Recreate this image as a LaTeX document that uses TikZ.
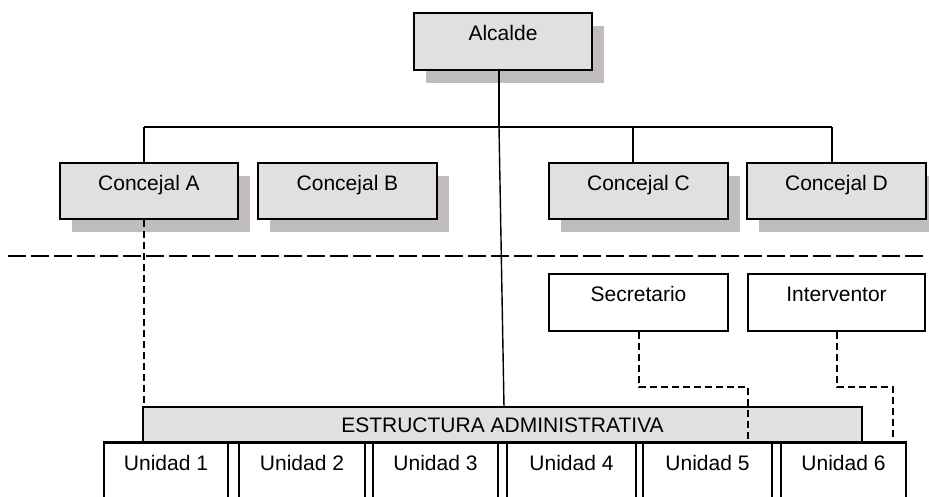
\documentclass[tikz,border=0pt]{standalone}
\usepackage{fontspec}
\setmainfont{Liberation Sans}
\usetikzlibrary{shadows}
\definecolor{boxgray}{RGB}{224,224,224}
\definecolor{shadegray}{RGB}{192,188,188}
\tikzset{
  lbl/.style={label={[anchor=base,yshift=-28pt,inner sep=0pt,font=\fontsize{21}{25}\selectfont]north:#1}},
  orgbox/.style={draw=black, line width=1.8pt, fill=boxgray, inner sep=0pt,
    drop shadow={shadow xshift=11.5pt, shadow yshift=-12.5pt, fill=shadegray, opacity=1}},
  plainbox/.style={draw=black, line width=1.6pt, fill=white, inner sep=0pt},
  barbox/.style={draw=black, line width=1.5pt, fill=boxgray, inner sep=0pt},
  link/.style={line width=1.6pt},
  dotlink/.style={line width=1.5pt, dash pattern=on 7pt off 4pt},
  divider/.style={line width=2pt, dash pattern=on 18pt off 5pt}
}
\begin{document}
\begin{tikzpicture}[x=1pt,y=-1pt]
\useasboundingbox (0,0) rectangle (929,496);

% political level
\node[orgbox, minimum width=178pt, minimum height=57pt, lbl=Alcalde] (alc) at (503,41.5) {};
\node[orgbox, minimum width=178pt, minimum height=56pt, lbl=Concejal A] (cA) at (149,191) {};
\node[orgbox, minimum width=179pt, minimum height=56pt, lbl=Concejal B] (cB) at (347.5,191) {};
\node[orgbox, minimum width=179pt, minimum height=56pt, lbl=Concejal C] (cC) at (638.5,191) {};
\node[orgbox, minimum width=179pt, minimum height=56pt, lbl=Concejal D] (cD) at (836.5,191) {};

% boundary between political and administrative level
\coordinate (divL) at (8,256);
\coordinate (divR) at (926,256);
\draw[divider] (divL) -- (divR);

% officials with national mandate
\node[plainbox, minimum width=179pt, minimum height=57pt, lbl=Secretario] (sec) at (638.5,302.5) {};
\node[plainbox, minimum width=177pt, minimum height=57pt, lbl=Interventor] (int) at (836.5,302.5) {};

% administrative structure
\node[barbox, minimum width=719pt, minimum height=36pt,
  label={[anchor=base,yshift=-26pt,inner sep=0pt,font=\fontsize{21}{25}\selectfont]north:ESTRUCTURA ADMINISTRATIVA}] (est) at (502.5,425) {};

\node[plainbox, minimum width=124pt, minimum height=62pt, lbl=Unidad 1] (u1) at (166,474) {};
\node[plainbox, minimum width=126pt, minimum height=62pt, lbl=Unidad 2] (u2) at (302,474) {};
\node[plainbox, minimum width=125pt, minimum height=62pt, lbl=Unidad 3] (u3) at (435.5,474) {};
\node[plainbox, minimum width=129pt, minimum height=62pt, lbl=Unidad 4] (u4) at (571.5,474) {};
\node[plainbox, minimum width=129pt, minimum height=62pt, lbl=Unidad 5] (u5) at (707.5,474) {};
\node[plainbox, minimum width=125pt, minimum height=62pt, lbl=Unidad 6] (u6) at (843.5,474) {};
\draw[line width=1.6pt] (u1.north west) -- (u6.north east);

% hierarchy connectors
\coordinate (busM) at (499,127);
\coordinate (busL) at (144,127);
\coordinate (busR) at (832,127);
\coordinate (dropC) at (633,127);
\coordinate (mainEnd) at (504,407);
\draw[link] (alc.south -| busM) -- (busM);
\draw[link] (busL) -- (busR);
\draw[link] (busL) -- (busL |- cA.north);
\draw[link] (dropC) -- (dropC |- cC.north);
\draw[link] (busR) -- (busR |- cD.north);
\draw[line width=1.4pt] (busM) -- (mainEnd);

% functional (dashed) connectors
\coordinate (aX) at (144,0);
\draw[dotlink] (cA.south -| aX) -- (est.north -| aX);
\coordinate (secTurn) at (639,387);
\coordinate (secDrop) at (748,387);
\draw[dotlink] (sec.south -| secTurn) -- (secTurn) -- (secDrop) -- (secDrop |- u5.north);
\coordinate (intTurn) at (837,387);
\coordinate (intDrop) at (893,387);
\draw[dotlink] (int.south -| intTurn) -- (intTurn) -- (intDrop) -- (intDrop |- u6.north);
\end{tikzpicture}
\end{document}
